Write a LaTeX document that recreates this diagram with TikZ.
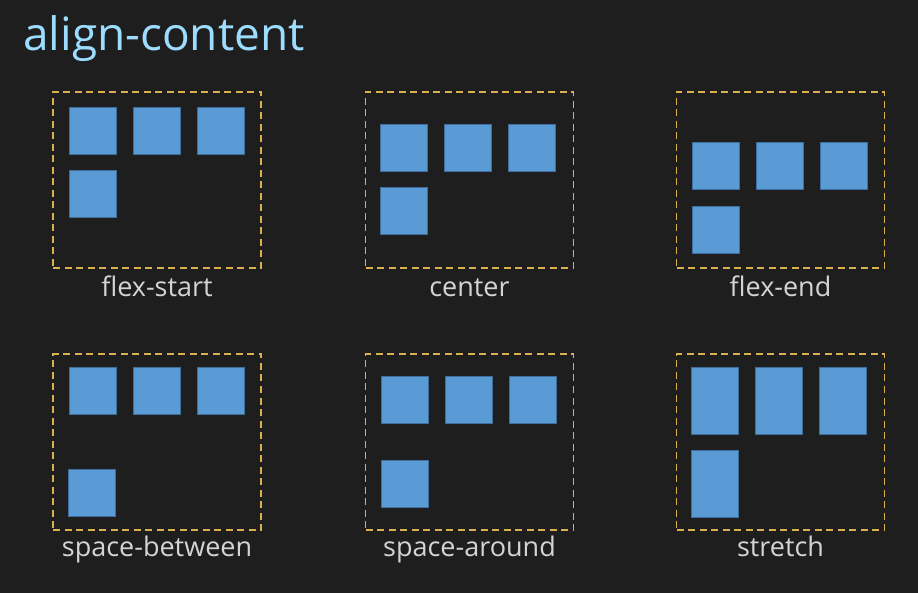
\documentclass[tikz,border=0pt]{standalone}
\usepackage{fontspec}
\setmainfont{Open Sans}
\definecolor{bgdark}{HTML}{1E1E1E}
\definecolor{titleblue}{HTML}{9CDCFE}
\definecolor{labelgrey}{HTML}{D4D4D4}
\definecolor{dashgold}{HTML}{D9B24E}
\definecolor{itemblue}{HTML}{5B9BD5}
\definecolor{itemedge}{HTML}{3F6E9C}
\begin{document}
\begin{tikzpicture}[
    x=1pt, y=-1pt,
    container/.style={rectangle, draw=dashgold, line width=1.8pt, dash pattern=on 7pt off 4.5pt, minimum width=208pt, minimum height=176pt, inner sep=0pt},
    item/.style={rectangle, fill=itemblue, draw=itemedge, line width=0.8pt, minimum width=47pt, minimum height=47pt, inner sep=0pt},
    tall/.style={item, minimum height=67pt},
    caption/.style={anchor=base, text=labelgrey, font=\fontsize{27}{32}\selectfont, inner sep=0pt}
]
    \fill[bgdark] (0,0) rectangle (918,593);
    \useasboundingbox (0,0) rectangle (918,593);

    \node[anchor=base west, inner sep=0pt, text=titleblue, font=\fontsize{46}{54}\selectfont] (title) at (23,51) {align-content};

    % top row
    \node[container] (flexstart) at (157,180) {};
    \node[item] (fs1) at (93,131) {};
    \node[item] (fs2) at (157,131) {};
    \node[item] (fs3) at (221,131) {};
    \node[item] (fs4) at (93,194) {};
    \node[caption] (lflexstart) at (157,297) {flex-start};

    \node[container] (center) at (469.5,180) {};
    \node[item] (c1) at (404,148) {};
    \node[item] (c2) at (468,148) {};
    \node[item] (c3) at (532,148) {};
    \node[item] (c4) at (404,211) {};
    \node[caption] (lcenter) at (469.5,297) {center};

    \node[container] (flexend) at (780.5,180) {};
    \node[item] (fe1) at (716,166) {};
    \node[item] (fe2) at (780,166) {};
    \node[item] (fe3) at (844,166) {};
    \node[item] (fe4) at (716,229.5) {};
    \node[caption] (lflexend) at (780.5,297) {flex-end};

    % bottom row
    \node[container] (between) at (157,442) {};
    \node[item] (sb1) at (93,391) {};
    \node[item] (sb2) at (157,391) {};
    \node[item] (sb3) at (221,391) {};
    \node[item] (sb4) at (92,492.5) {};
    \node[caption] (lbetween) at (157,556) {space-between};

    \node[container] (around) at (469.5,442) {};
    \node[item] (sa1) at (404.5,399.5) {};
    \node[item] (sa2) at (468.5,399.5) {};
    \node[item] (sa3) at (532.5,399.5) {};
    \node[item] (sa4) at (404.5,484) {};
    \node[caption] (laround) at (469.5,556) {space-around};

    \node[container] (stretch) at (780.5,442) {};
    \node[tall] (st1) at (715,401) {};
    \node[tall] (st2) at (779,401) {};
    \node[tall] (st3) at (843,401) {};
    \node[tall] (st4) at (715,484) {};
    \node[caption] (lstretch) at (780.5,556) {stretch};
\end{tikzpicture}
\end{document}
